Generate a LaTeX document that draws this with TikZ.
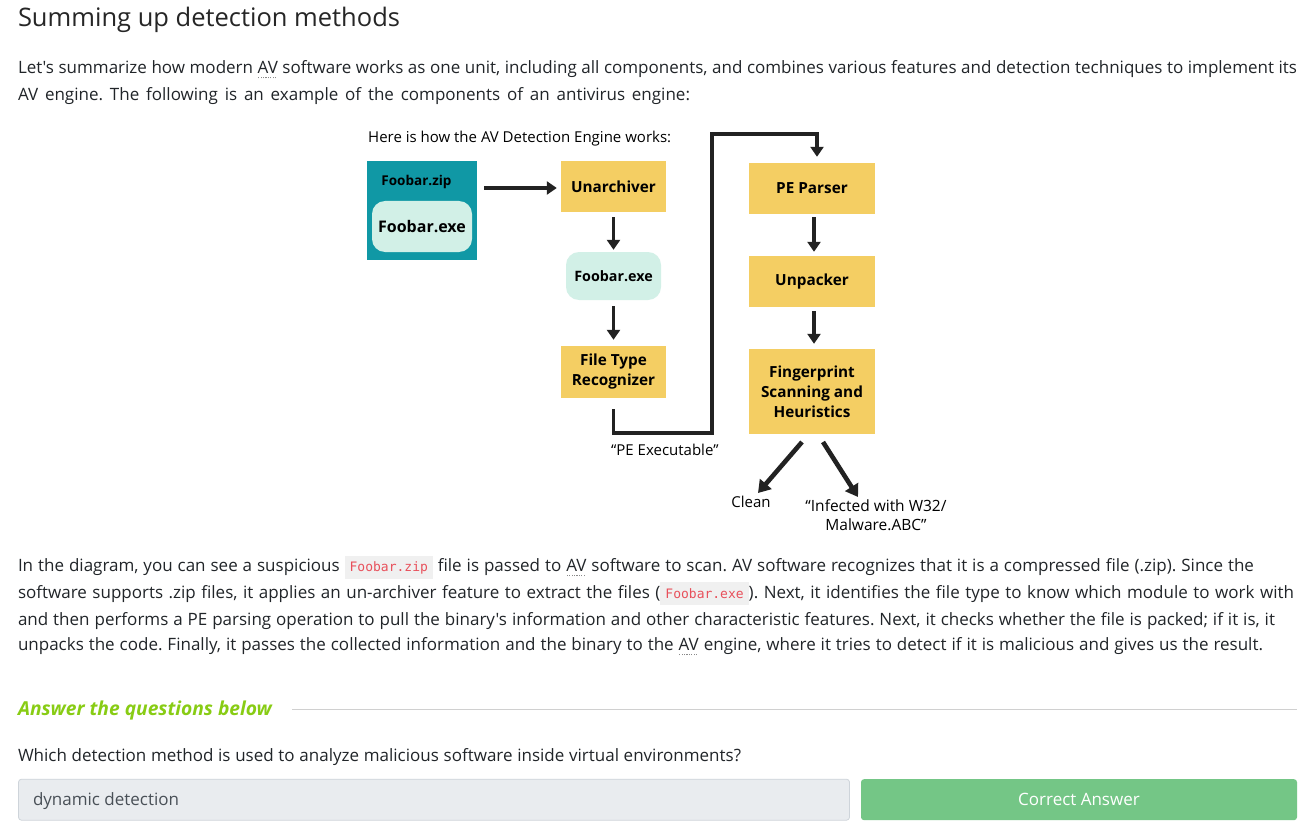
\documentclass[tikz,border=0pt]{standalone}
\usepackage{fontspec}
\setmainfont{Open Sans}[Ligatures=TeXOff]
\newfontfamily\codefont{DejaVu Sans Mono}
\usetikzlibrary{arrows.meta}
\definecolor{txt}{HTML}{212529}
\definecolor{titlec}{HTML}{262626}
\definecolor{abbrgray}{HTML}{8A8A8A}
\definecolor{codebg}{HTML}{F0F0F0}
\definecolor{codered}{HTML}{E8505B}
\definecolor{tealc}{HTML}{1098A5}
\definecolor{yellowc}{HTML}{F4CE63}
\definecolor{mintc}{HTML}{D2F0E7}
\definecolor{arrowc}{HTML}{222222}
\definecolor{greenc}{HTML}{88CC14}
\definecolor{rulec}{HTML}{D0D0D0}
\definecolor{inputbg}{HTML}{E9ECEF}
\definecolor{inputbd}{HTML}{CED4DA}
\definecolor{inputtxt}{HTML}{495057}
\definecolor{btnc}{HTML}{74C686}
\newsavebox\abbrbox
\newcommand\abbr[1]{\sbox\abbrbox{#1}\rlap{\textcolor{abbrgray}{\raisebox{-4.5pt}{\leaders\hbox to 2.4pt{\hss\rule{1.2pt}{1.2pt}\hss}\hskip\wd\abbrbox}}}\usebox\abbrbox}
\newcommand\code[1]{{\setlength\fboxsep{5pt}\colorbox{codebg}{\rule[-1.5pt]{0pt}{12.5pt}\codefont\fontsize{13}{15}\selectfont\textcolor{codered}{#1}}}}
\newcommand\bodyfont{\fontsize{17}{20}\selectfont}
\frenchspacing
\tikzset{
  line/.style={anchor=base west, inner sep=0pt, outer sep=0pt, text=txt, font=\bodyfont},
  proc/.style={fill=yellowc, inner sep=0pt, align=center, text=black, font=\bfseries\fontsize{15.3}{20}\selectfont},
  mintbox/.style={fill=mintc, inner sep=0pt, rounded corners=13pt, text=black, font=\bfseries\fontsize{15.5}{19}\selectfont},
  conn/.style={draw=arrowc, line width=3.6pt, -{Triangle[width=13pt,length=10pt]}},
  bigconn/.style={draw=arrowc, line width=4.6pt, -{Triangle[width=15pt,length=12pt]}},
  dlabel/.style={inner sep=0pt, text=black, font=\fontsize{15}{19}\selectfont, align=center}
}
\begin{document}
\begin{tikzpicture}[x=1pt,y=-1pt]
\useasboundingbox[fill=white] (0,0) rectangle (1313,834);
% title and first paragraph
\node[line, text=titlec, font=\fontsize{25.5}{30}\selectfont] (title) at (18,27) {Summing up detection methods};
\node[line] (p1a) at (18,74) {\makebox[1279pt][s]{Let's summarize how modern \abbr{AV} software works as one unit, including all components, and combines various features and detection techniques to implement its}};
\node[line] (p1b) at (18,100.7) {\makebox[672pt][s]{AV engine. The following is an example of the components of an antivirus engine:}};
% diagram
\node[dlabel, anchor=base west] (cap) at (368,143) {Here is how the AV Detection Engine works:};
\node[fill=tealc, minimum width=110pt, minimum height=99pt, inner sep=0pt] (zip) at (422,210.5) {};
\node[inner sep=0pt, text=black, font=\bfseries\fontsize{13.5}{16}\selectfont] (zipl) at (416.5,182) {Foobar.zip};
\node[mintbox, minimum width=100pt, minimum height=51pt, font=\bfseries\fontsize{16}{19}\selectfont] (zipexe) at (422,226.5) {Foobar.exe};
\node[proc, minimum width=105pt, minimum height=51pt] (unarch) at (613.5,186.5) {Unarchiver};
\node[mintbox, minimum width=95pt, minimum height=48pt, font=\bfseries\fontsize{14.3}{18}\selectfont] (fexe) at (613.5,276) {Foobar.exe};
\node[proc, minimum width=105pt, minimum height=52pt] (ftr) at (613.5,372) {File Type\\Recognizer};
\node[proc, minimum width=126pt, minimum height=51pt] (pe) at (812,188.5) {PE Parser};
\node[proc, minimum width=126pt, minimum height=51pt] (unp) at (812,281.5) {Unpacker};
\node[proc, minimum width=126pt, minimum height=85pt] (fp) at (812,391.5) {Fingerprint\\Scanning and\\Heuristics};
\node[dlabel, anchor=base west] (pelbl) at (611,455) {“PE Executable”};
\node[dlabel, anchor=base] (clean) at (751,507) {Clean};
\node[dlabel, anchor=base, font=\fontsize{15.5}{19}\selectfont] (inf) at (876,530) {“Infected with W32/\\Malware.ABC”};
\coordinate (c1) at (712,433);
\coordinate (c2) at (712,134);
\coordinate (c3) at (817,134);
\coordinate (d1s) at (802,442);
\coordinate (d1e) at (758,493);
\coordinate (d2s) at (823,442);
\coordinate (d2e) at (858,497);
\draw[conn] ([xshift=7pt]zip.east |- unarch.west) ++(0,1.5) -- ([xshift=-4pt,yshift=-1.5pt]unarch.west);
\draw[conn] ([yshift=-5pt]unarch.south) -- ([yshift=2pt]fexe.north);
\draw[conn] ([yshift=-6pt]fexe.south) -- ([yshift=6pt]ftr.north);
\draw[conn] ([yshift=-11pt]ftr.south) |- (c1) -- (c2) -- (c3) -- ([xshift=5pt,yshift=6pt]pe.north);
\draw[conn] ([xshift=2pt,yshift=-3pt]pe.south) -- ([xshift=2pt,yshift=4pt]unp.north);
\draw[conn] ([xshift=2pt,yshift=-4pt]unp.south) -- ([xshift=2pt,yshift=5pt]fp.north);
\draw[bigconn] (d1s) -- (d1e);
\draw[bigconn] (d2s) -- (d2e);
% second paragraph
\node[line] (p2a) at (18,571.7) {\makebox[1236pt][s]{In the diagram, you can see a suspicious \code{Foobar.zip} file is passed to \abbr{AV} software to scan. AV software recognizes that it is a compressed file (.zip). Since the}};
\node[line] (p2b) at (18,598.3) {\makebox[1276pt][s]{software supports .zip files, it applies an un-archiver feature to extract the files (\code{Foobar.exe}). Next, it identifies the file type to know which module to work with}};
\node[line] (p2c) at (18,625) {\makebox[1257pt][s]{and then performs a PE parsing operation to pull the binary's information and other characteristic features. Next, it checks whether the file is packed; if it is, it}};
\node[line] (p2d) at (18,650.7) {\makebox[1245pt][s]{unpacks the code. Finally, it passes the collected information and the binary to the \abbr{AV} engine, where it tries to detect if it is malicious and gives us the result.}};
% answer section
\node[line, text=greenc, font=\bfseries\itshape\fontsize{19.2}{22}\selectfont] (ans) at (18,715.7) {Answer the questions below};
\coordinate (r1) at (292,709.5);
\coordinate (r2) at (1297,709.5);
\draw[rulec, line width=1pt] (r1) -- (r2);
\node[line] (q) at (18,761) {\makebox[723pt][s]{Which detection method is used to analyze malicious software inside virtual environments?}};
\node[draw=inputbd, fill=inputbg, rounded corners=3pt, line width=0.8pt, minimum width=831pt, minimum height=41pt, inner sep=0pt] (inp) at (434,799.7) {};
\node[line, text=inputtxt] (inptxt) at (33,805.7) {dynamic detection};
\node[fill=btnc, rounded corners=3pt, minimum width=436pt, minimum height=41pt, inner sep=0pt, text=white, font=\fontsize{17}{20}\selectfont] (btn) at (1079,799.7) {Correct Answer};
\end{tikzpicture}
\end{document}
